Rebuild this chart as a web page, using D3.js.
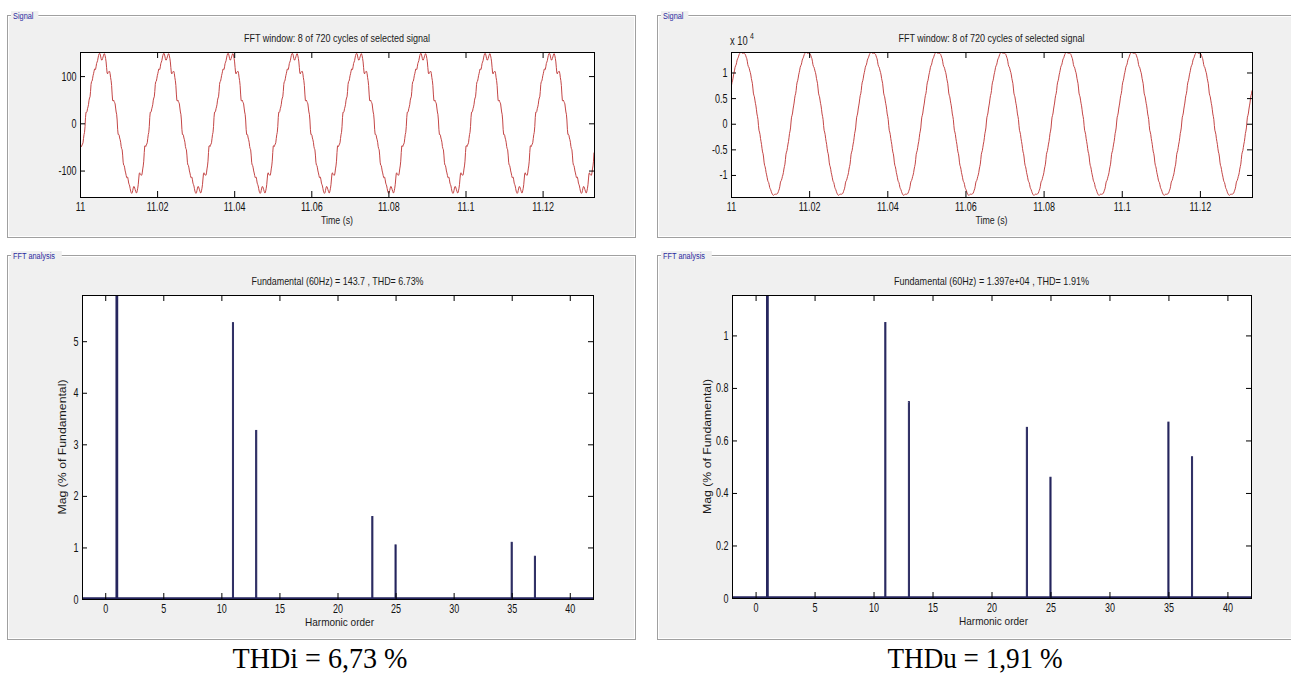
<!DOCTYPE html>
<html><head><meta charset="utf-8">
<script src="https://cdn.jsdelivr.net/npm/d3@7"></script>
<style>
body{margin:0;background:#fff;}
svg{display:block;font-family:"Liberation Sans",Arial,sans-serif;}
</style></head><body>
<svg id="chart" width="1291" height="673"></svg>
<script>
// ---------------- data ----------------
const harmonicOrders   = [1, 11, 13, 23, 25, 35, 37];
const currentMag       = [100, 5.36, 3.27, 1.60, 1.05, 1.10, 0.83];    // % of fundamental
const voltageMag       = [100, 1.049, 0.748, 0.650, 0.460, 0.670, 0.538]; // % of fundamental
const harmonicPhaseDeg = [0, 0, 90, 0, 0, 0, 0];
const currentFund = 143.7;      // A, fundamental amplitude
const voltageFund = 1.397e4;    // V, fundamental amplitude
const currentPhase0 = -0.52;    // rad at t = 11 s
const voltagePhase0 = 0.50;     // rad at t = 11 s
const windowStart = 11, windowCycles = 8, fundHz = 60, samplesPerCycle = 128;
const currentYLim = [-156, 151];
const voltageYLim = [-1.43, 1.40];  // x 10^4
const timeTicks    = [11, 11.02, 11.04, 11.06, 11.08, 11.1, 11.12];
const currentTicks = [-100, 0, 100];
const voltageTicks = [-1, -0.5, 0, 0.5, 1];
const harmTicks    = [0, 5, 10, 15, 20, 25, 30, 35, 40];
const magTicksI    = [0, 1, 2, 3, 4, 5];
const magTicksU    = [0, 0.2, 0.4, 0.6, 0.8, 1];
const harmDomain   = [-2, 42];

const titleSignal = "FFT window: 8 of 720 cycles of selected signal";
const titleFftI = "Fundamental (60Hz) = 143.7 , THD= 6.73%";
const titleFftU = "Fundamental (60Hz) = 1.397e+04 , THD= 1.91%";
const captionI = "THDi = 6,73 %";
const captionU = "THDu = 1,91 %";

// ---------------- signal samples built from the harmonic table ----------------
function buildSignal(fund, mags, phase0, scale) {
  const N = windowCycles * samplesPerCycle;
  const pts = [];
  for (let k = 0; k <= N; k++) {
    const t = windowStart + k / (fundHz * samplesPerCycle);
    const th = 2 * Math.PI * fundHz * (t - windowStart) + phase0;
    let v = 0;
    harmonicOrders.forEach((h, i) => {
      v += mags[i] / 100 * Math.sin(h * th + harmonicPhaseDeg[i] * Math.PI / 180);
    });
    pts.push([t, fund * v / scale]);
  }
  return pts;
}
const currentSignal = buildSignal(currentFund, currentMag, currentPhase0, 1);
const voltageSignal = buildSignal(voltageFund, voltageMag, voltagePhase0, 1e4);

// ---------------- drawing ----------------
const svg = d3.select("#chart");
const defs = svg.append("defs");
let clipId = 0;

function panel(x0, y0, x1, y1, label) {
  const g = svg.append("g");
  g.append("rect").attr("x", x0 + 0.5).attr("y", y0 + 0.5).attr("width", x1 - x0).attr("height", y1 - y0)
    .attr("fill", "#f0f0f0").attr("stroke", "#a0a0a0");
  g.append("rect").attr("x", x0 + 1.5).attr("y", y0 + 1.5).attr("width", x1 - x0 - 2).attr("height", y1 - y0 - 2)
    .attr("fill", "none").attr("stroke", "#ffffff");
  const tw = label.length * 3.9;
  g.append("rect").attr("x", x0 + 4).attr("y", y0 - 4).attr("width", tw + 4).attr("height", 9).attr("fill", "#f0f0f0");
  g.append("text").attr("transform", `translate(${x0 + 6},${y0 + 3.5}) scale(0.82,1)`)
    .attr("font-size", 9).attr("fill", "#2a2aa0").text(label);
}

function styleAxisText(g) {
  g.select(".domain").remove();
  g.selectAll(".tick line").attr("stroke", "#000");
  g.selectAll(".tick text").attr("font-size", 12.5).attr("fill", "#111")
    .attr("transform", "scale(0.72,1)");
}

function drawAxes(box, x, y, xTicks, yTicks) {
  const fmt = d => String(d);
  const gB = svg.append("g").attr("transform", `translate(0,${box.y1})`)
    .call(d3.axisBottom(x).tickValues(xTicks).tickSizeInner(-6).tickSizeOuter(0).tickPadding(5).tickFormat(fmt));
  styleAxisText(gB);
  const gT = svg.append("g").attr("transform", `translate(0,${box.y0})`)
    .call(d3.axisTop(x).tickValues(xTicks).tickSizeInner(-6).tickSizeOuter(0).tickFormat(() => ""));
  styleAxisText(gT);
  const gL = svg.append("g").attr("transform", `translate(${box.x0},0)`)
    .call(d3.axisLeft(y).tickValues(yTicks).tickSizeInner(-5).tickSizeOuter(0).tickPadding(5).tickFormat(fmt));
  styleAxisText(gL);
  const gR = svg.append("g").attr("transform", `translate(${box.x1},0)`)
    .call(d3.axisRight(y).tickValues(yTicks).tickSizeInner(-5).tickSizeOuter(0).tickFormat(() => ""));
  styleAxisText(gR);
  svg.append("rect").attr("x", box.x0 + 0.5).attr("y", box.y0 + 0.5)
    .attr("width", box.x1 - box.x0).attr("height", box.y1 - box.y0)
    .attr("fill", "none").attr("stroke", "#000");
}

function plotBg(box) {
  svg.append("rect").attr("x", box.x0).attr("y", box.y0).attr("width", box.x1 - box.x0).attr("height", box.y1 - box.y0).attr("fill", "#fff");
  const id = "clip" + (clipId++);
  defs.append("clipPath").attr("id", id).append("rect")
    .attr("x", box.x0).attr("y", box.y0).attr("width", box.x1 - box.x0 + 1).attr("height", box.y1 - box.y0 + 1);
  return id;
}

function condensedText(x, y, str, size, width, anchor) {
  return svg.append("text").attr("x", x).attr("y", y).attr("font-size", size).attr("fill", "#1a1a1a")
    .attr("text-anchor", anchor || "middle").attr("textLength", width).attr("lengthAdjust", "spacingAndGlyphs").text(str);
}

function signalPlot(box, data, yDomain, yTicks) {
  const x = d3.scaleLinear().domain([windowStart, windowStart + windowCycles / fundHz]).range([box.x0, box.x1]);
  const y = d3.scaleLinear().domain(yDomain).range([box.y1, box.y0]);
  const id = plotBg(box);
  svg.append("path").datum(data).attr("clip-path", `url(#${id})`)
    .attr("fill", "none").attr("stroke", "#c44646").attr("stroke-width", 1)
    .attr("d", d3.line().x(d => x(d[0])).y(d => y(d[1])));
  drawAxes(box, x, y, timeTicks, yTicks);
  const cx = (box.x0 + box.x1) / 2;
  condensedText(cx, box.y0 - 10, titleSignal, 11.5, 186);
  condensedText(cx, box.y1 + 27, "Time (s)", 10.5, 32);
}

function fftPlot(box, mags, title, titleW, yTicks) {
  const x = d3.scaleLinear().domain(harmDomain).range([box.x0, box.x1]);
  const ymax = 1.1 * d3.max(mags.filter((m, i) => harmonicOrders[i] !== 1));
  const y = d3.scaleLinear().domain([0, ymax]).range([box.y1, box.y0]);
  const id = plotBg(box);
  const bars = harmonicOrders.map((h, i) => ({h: h, m: mags[i]}));
  const gBars = svg.append("g").attr("clip-path", `url(#${id})`);
  gBars.selectAll("rect").data(bars).enter().append("rect")
    .attr("x", d => x(d.h - 0.05)).attr("width", d => x(d.h + 0.05) - x(d.h - 0.05))
    .attr("y", d => y(Math.min(d.m, ymax * 1.05))).attr("height", d => y(0) - y(Math.min(d.m, ymax * 1.05)))
    .attr("fill", "#26265e").attr("stroke", "#26265e").attr("stroke-width", d => d.h === 1 ? 1.6 : 0.9);
  svg.append("line").attr("x1", box.x0).attr("x2", box.x1).attr("y1", y(0) - 0.8).attr("y2", y(0) - 0.8)
    .attr("stroke", "#26265e").attr("stroke-width", 1.8);
  drawAxes(box, x, y, harmTicks, yTicks);
  const cx = (box.x0 + box.x1) / 2;
  condensedText(cx, box.y0 - 10, title, 11.5, titleW);
  condensedText(cx + 2, box.y1 + 27, "Harmonic order", 10.5, 69);
}

// panels
panel(7, 15, 635, 237, "Signal");
panel(657, 15, 1300, 237, "Signal");
panel(7, 255, 635, 639, "FFT analysis");
panel(657, 255, 1300, 639, "FFT analysis");

const boxTL = {x0: 80, x1: 594, y0: 52, y1: 197};
const boxTR = {x0: 731, x1: 1252, y0: 52, y1: 197};
const boxBL = {x0: 82, x1: 593, y0: 295, y1: 599};
const boxBR = {x0: 732, x1: 1251, y0: 295, y1: 598};

signalPlot(boxTL, currentSignal, currentYLim, currentTicks);
signalPlot(boxTR, voltageSignal, voltageYLim, voltageTicks);
// exponent label
svg.append("text").attr("transform", `translate(${boxTR.x0 - 1},${boxTR.y0 - 7}) scale(0.78,1)`)
  .attr("font-size", 12).attr("fill", "#1a1a1a").text("x 10");
svg.append("text").attr("transform", `translate(${boxTR.x0 + 19},${boxTR.y0 - 13}) scale(0.82,1)`)
  .attr("font-size", 8.5).attr("fill", "#1a1a1a").text("4");

fftPlot(boxBL, currentMag, titleFftI, 172, magTicksI);
fftPlot(boxBR, voltageMag, titleFftU, 195, magTicksU);

// y labels
[[66, boxBL], [711, boxBR]].forEach(([bx, box]) => {
  svg.append("text").attr("transform", `translate(${bx},${(box.y0 + box.y1) / 2}) rotate(-90)`)
    .attr("text-anchor", "middle").attr("font-size", 11.5).attr("fill", "#1a1a1a")
    .attr("textLength", 135).attr("lengthAdjust", "spacingAndGlyphs").text("Mag (% of Fundamental)");
});

// captions
[[320, captionI], [975, captionU]].forEach(([cx, s]) => {
  svg.append("text").attr("x", cx).attr("y", 668).attr("text-anchor", "middle")
    .style("font-family", "'Liberation Serif','Times New Roman',serif").attr("font-size", 29)
    .attr("fill", "#000").attr("textLength", 175).attr("lengthAdjust", "spacingAndGlyphs").text(s);
});
</script>
</body></html>
